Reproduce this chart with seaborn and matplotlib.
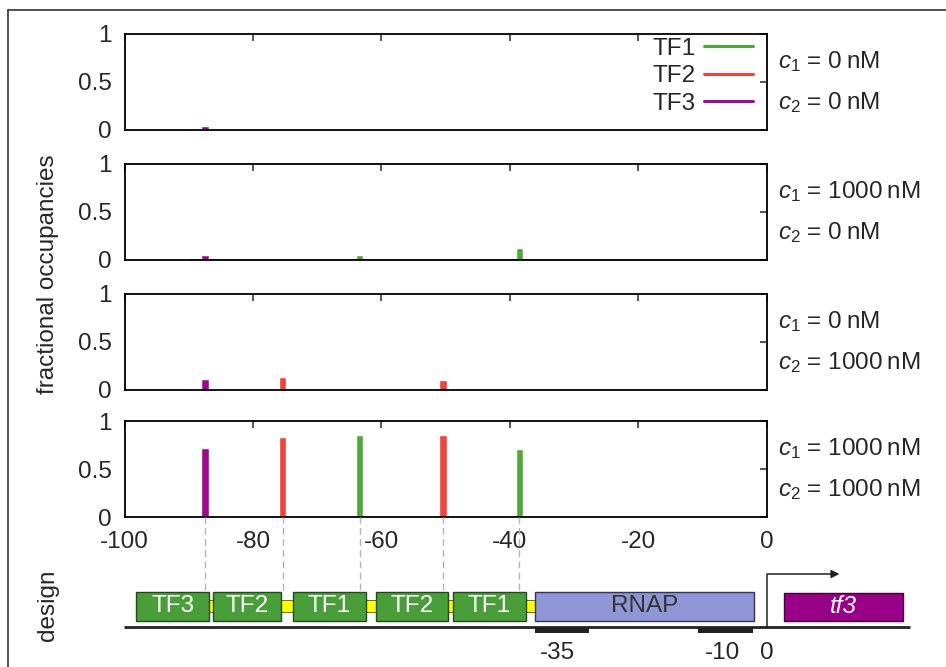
import matplotlib
matplotlib.use("Agg")
import matplotlib.pyplot as plt
from matplotlib.lines import Line2D
from matplotlib.patches import Rectangle
import seaborn as sns
import pandas as pd

# binding sites (bp relative to TSS) and which factor sits there
site_pos = [-87.5, -75.4, -63.4, -50.4, -38.5]
site_tf = ["TF3", "TF2", "TF1", "TF2", "TF1"]

# fractional occupancy at each site, one list per concentration pair
occ_00 = [0.04, 0.0, 0.0, 0.0, 0.0]
occ_10 = [0.05, 0.0, 0.05, 0.0, 0.13]
occ_01 = [0.11, 0.14, 0.0, 0.10, 0.0]
occ_11 = [0.72, 0.83, 0.85, 0.85, 0.71]
panel_occ = [occ_00, occ_10, occ_01, occ_11]
panel_c1 = ["0", "1000", "0", "1000"]
panel_c2 = ["0", "0", "1000", "1000"]

tf_names = ["TF1", "TF2", "TF3"]
tf_colors = {"TF1": "#4ea83a", "TF2": "#f0433a", "TF3": "#9b0a8f"}

# design schematic: element name, start bp, end bp
design_names = ["TF3", "TF2", "TF1", "TF2", "TF1"]
design_start = [-98.2, -86.3, -73.8, -60.9, -48.9]
design_end = [-86.8, -75.6, -62.4, -49.6, -37.4]
rnap_span = (-36.1, -1.9)
gene_span = (2.8, 21.3)
box35_span = (-36.1, -27.6)
box10_span = (-10.6, -2.1)
promoter_labels = ["-35", "-10", "0"]
promoter_label_x = [-32.5, -6.9, 0.0]

sns.set_style("white")
plt.rcParams["font.family"] = ["Liberation Sans", "DejaVu Sans"]
plt.rcParams["mathtext.fontset"] = "custom"
plt.rcParams["mathtext.rm"] = "Liberation Sans"
plt.rcParams["mathtext.it"] = "Liberation Sans:italic"
plt.rcParams["axes.unicode_minus"] = False
FS = 17.5

W, H = 946, 667
fig = plt.figure(figsize=(W / 100, H / 100), dpi=100)

x0, x1 = 124.6, 766.5
tops = [34, 164, 294, 421]
ph = 96


def fig_rect(left, top, right, bottom):
    return [left / W, 1 - bottom / H, (right - left) / W, (bottom - top) / H]


axes = []
for i, occ in enumerate(panel_occ):
    ax = fig.add_axes(fig_rect(x0, tops[i], x1, tops[i] + ph))
    df = pd.DataFrame({"pos": site_pos, "tf": site_tf, "occ": occ})
    sns.barplot(data=df, x="pos", y="occ", hue="tf", hue_order=tf_names,
                palette=tf_colors, native_scale=True, dodge=False,
                width=0.1, saturation=1, ax=ax, legend=False, errorbar=None)
    if i == 1:
        ax.hlines(0, -90, 0, color="#7a1020", lw=1.2, zorder=1)
    ax.set_xlim(-100, 0)
    ax.set_ylim(0, 1)
    ax.set_yticks([0, 0.5, 1])
    ax.set_yticklabels(["0", "0.5", "1"])
    ax.set_xticks(range(-100, 1, 20))
    ax.tick_params(direction="in", length=5, width=1.1, top=True, right=True,
                   labelsize=FS, pad=9)
    ax.set_xlabel("")
    ax.set_ylabel("")
    if i < 3:
        ax.tick_params(labelbottom=False)
    else:
        ax.tick_params(axis="x", pad=10)
    for sp in ax.spines.values():
        sp.set_visible(True)
        sp.set_linewidth(1.3)
        sp.set_color("black")
    ax.text(1.018, 0.71, rf"$c_1$ = {panel_c1[i]}" + "\u2009nM",
            transform=ax.transAxes, fontsize=FS, va="center", ha="left")
    ax.text(1.018, 0.29, rf"$c_2$ = {panel_c2[i]}" + "\u2009nM",
            transform=ax.transAxes, fontsize=FS, va="center", ha="left")
    axes.append(ax)

handles = [Line2D([], [], color=tf_colors[t], lw=2.2) for t in tf_names]
axes[0].legend(handles, tf_names, loc="upper right",
               bbox_to_anchor=(0.979, 0.96), markerfirst=False, frameon=False,
               fontsize=FS, handlelength=2.0, handletextpad=0.35,
               labelspacing=0.22, borderpad=0, borderaxespad=0)

fig.text(48 / W, 1 - 274 / H, "fractional occupancies", rotation=90,
         fontsize=FS, ha="center", va="center")
fig.text(48 / W, 1 - 605 / H, "design", rotation=90,
         fontsize=FS, ha="center", va="center")

# design schematic axis: 1 y-unit = 1 px, baseline at y=0
dax = fig.add_axes(fig_rect(x0, 517, x1, 667))
dax.set_xlim(-100, 0)
dax.set_ylim(-40, 110)
dax.axis("off")

# dashed guides from sites down to the schematic
dax.vlines(site_pos, 37, 110, colors="#b5b5b5", linestyles=(0, (5, 3)),
           lw=1.0, clip_on=False, zorder=0)

# yellow spacer behind boxes
dax.add_patch(Rectangle((design_start[0], 15), rnap_span[0] - design_start[0],
                        12, facecolor="#ffff00", edgecolor="#555500", lw=0.6,
                        clip_on=False, zorder=1))
for name, s, e in zip(design_names, design_start, design_end):
    dax.add_patch(Rectangle((s, 6), e - s, 29, facecolor="#4a9e3a",
                            edgecolor="#234a1c", lw=1.0, clip_on=False,
                            zorder=2))
    dax.text((s + e) / 2, 20.5, name, color="white", fontsize=FS,
             ha="center", va="center", zorder=3)

dax.add_patch(Rectangle((rnap_span[0], 6), rnap_span[1] - rnap_span[0], 29,
                        facecolor="#8e96d6", edgecolor="#333355", lw=1.0,
                        clip_on=False, zorder=2))
dax.text(sum(rnap_span) / 2, 20.5, "RNAP", color="#333333", fontsize=FS,
         ha="center", va="center", zorder=3)

dax.add_patch(Rectangle((gene_span[0], 6), gene_span[1] - gene_span[0], 28,
                        facecolor="#990088", edgecolor="#3a0035", lw=1.0,
                        clip_on=False, zorder=2))
dax.text(sum(gene_span) / 2, 20.5, "tf3", color="white", fontsize=FS,
         style="italic", ha="center", va="center", zorder=3)

# DNA baseline and promoter boxes
dax.hlines(0, -100.1, 22.4, color="#222222", lw=2.0, clip_on=False)
for span in (box35_span, box10_span):
    dax.add_patch(Rectangle((span[0], -6), span[1] - span[0], 6,
                            facecolor="#222222", edgecolor="none",
                            clip_on=False))
for lab, xl in zip(promoter_labels, promoter_label_x):
    dax.text(xl, -26, lab, fontsize=FS, ha="center", va="center")

# transcription start arrow
dax.plot([0, 0, 10.5], [0, 53, 53], color="#222222", lw=1.1, clip_on=False)
dax.annotate("", xy=(11.8, 53), xytext=(10, 53),
             arrowprops=dict(arrowstyle="-|>", color="#222222", lw=1.1,
                             mutation_scale=12), annotation_clip=False)

# outer frame (top and left edges visible in the crop)
fig.add_artist(Line2D([8 / W, 1], [1 - 9.5 / H, 1 - 9.5 / H],
                      color="#333333", lw=1.2))
fig.add_artist(Line2D([8 / W, 8 / W], [0, 1 - 9.5 / H],
                      color="#333333", lw=1.2))

fig.savefig("out.png", dpi=100)
